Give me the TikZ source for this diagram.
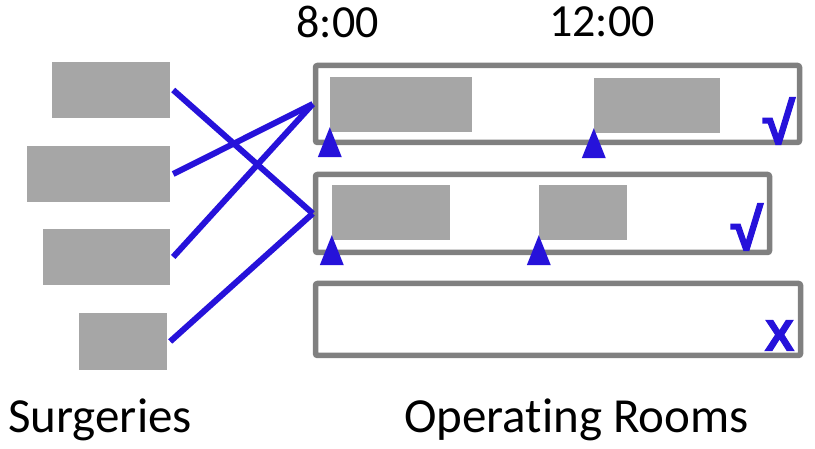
\documentclass[tikz,border=0pt]{standalone}
\usepackage{fontspec}
\setmainfont{Carlito}[Ligatures=NoCommon]
\newfontfamily\markfont{Liberation Sans}[FakeBold=2.5]
\definecolor{slotgray}{RGB}{166,166,166}
\definecolor{roomgray}{RGB}{128,128,128}
\definecolor{linkblue}{RGB}{38,18,218}
\begin{document}
\begin{tikzpicture}[x=1pt, y=1pt]
  \tikzset{
    surg_box/.style={rectangle, fill=slotgray, inner sep=0pt},
    slot_box/.style={rectangle, fill=slotgray, inner sep=0pt, minimum height=55pt},
    room_box/.style={rectangle, draw=roomgray, line width=5.5pt, rounded corners=2pt, inner sep=0pt},
    link_line/.style={draw=linkblue, line width=6pt},
    start_mark/.style={fill=linkblue},
    ok_mark/.style={text=linkblue, font=\markfont\bfseries\fontsize{58}{58}\selectfont, inner sep=0pt},
    no_mark/.style={text=linkblue, font=\markfont\bfseries\fontsize{44}{44}\selectfont, inner sep=0pt},
    time_text/.style={font=\fontsize{46}{50}\selectfont, inner sep=0pt},
    big_text/.style={font=\fontsize{49}{52}\selectfont, inner sep=0pt}
  }
  \useasboundingbox (0,0) rectangle (815,449);

  % Cirugias
  \node[surg_box, minimum width=118pt, minimum height=56pt] (s1) at (111,359) {};
  \node[surg_box, minimum width=143pt, minimum height=56pt] (s2) at (98.5,275) {};
  \node[surg_box, minimum width=127pt, minimum height=56pt] (s3) at (106.5,192) {};
  \node[surg_box, minimum width=88pt, minimum height=57pt] (s4) at (123,107.5) {};

  % Quirofanos
  \node[room_box, minimum width=484pt, minimum height=77pt] (room1) at (557.5,345) {};
  \node[room_box, minimum width=454pt, minimum height=78pt] (room2) at (542.5,235.5) {};
  \node[room_box, minimum width=485pt, minimum height=72pt] (room3) at (558,129.5) {};

  % Bloques asignados
  \node[slot_box, minimum width=142pt] (r1a) at (401,344.5) {};
  \node[slot_box, minimum width=126pt] (r1b) at (657,343.5) {};
  \node[slot_box, minimum width=118pt] (r2a) at (391,236.5) {};
  \node[slot_box, minimum width=88pt] (r2b) at (583,236.5) {};

  % Asignaciones
  \draw[link_line] ([xshift=3pt]s1.east) -- (room2.west);
  \draw[link_line] ([xshift=3pt]s2.east) -- (room1.west);
  \draw[link_line] ([xshift=3pt]s3.east) -- (room1.west);
  \draw[link_line] ([xshift=3pt]s4.east) -- (room2.west);

  % Marcas de inicio
  \foreach \slot in {r1a, r1b, r2a, r2b}
    \fill[start_mark] ([yshift=5pt]\slot.south west) -- ++(-12,-30) -- ++(24,0) -- cycle;

  % Marcas de factibilidad
  \node[ok_mark] (ok1) at (779,328) {√};
  \node[ok_mark] (ok2) at (747,222) {√};
  \node[no_mark] (no3) at (779.5,113.5) {X};

  % Etiquetas
  \node[time_text] (t8) at (337.5,427.5) {8:00};
  \node[time_text] (t12) at (602,427.5) {12:00};
  \node[big_text, anchor=base] (surg) at (100,16) {Surgeries};
  \node[big_text, anchor=base] (rooms) at (576.5,16) {Operating Rooms};
\end{tikzpicture}
\end{document}
